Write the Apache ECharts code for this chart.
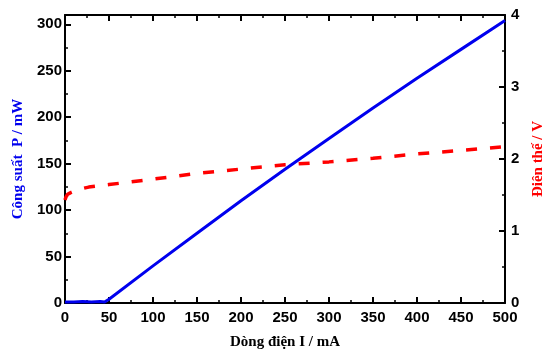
<!DOCTYPE html>
<html>
<head>
<meta charset="utf-8">
<script src="https://cdn.jsdelivr.net/npm/echarts@6/dist/echarts.min.js"></script>
<style>
  html, body { margin: 0; padding: 0; background: #fff; }
  #chart { width: 542px; height: 352px; }
</style>
</head>
<body>
<div id="chart"></div>
<script>
// power curve: current (mA) vs optical power (mW)
const powerI = [0, 10, 20, 30, 40, 45, 50, 100, 150, 200, 250, 300, 350, 400, 450, 500];
const powerP = [1, 1, 1.5, 1, 1.5, 1, 4, 40, 75, 110, 144, 177, 210, 242, 273, 304];

// voltage curve: current (mA) vs voltage (V)
const voltI = [0, 1, 3, 6, 10, 20, 27, 50, 100, 150, 200, 250, 300, 350, 400, 450, 500];
const voltV = [1.43, 1.47, 1.51, 1.53, 1.55, 1.59, 1.61, 1.645, 1.72, 1.80, 1.86, 1.92, 1.96, 2.01, 2.07, 2.12, 2.17];

const numFont = { fontFamily: "Liberation Sans, Arial, sans-serif", fontWeight: "bold", fontSize: 15, color: "#000" };
const nameFont = { fontFamily: "Liberation Serif, Times New Roman, serif", fontWeight: "bold", fontSize: 15 };

const frameLine = { show: true, onZero: false, lineStyle: { color: "#000", width: 2 } };
const tickIn = { show: true, inside: true, length: 6, lineStyle: { color: "#000", width: 2 } };
const minorIn = { show: true, splitNumber: 2, length: 3, lineStyle: { color: "#000", width: 1.5 } };

const chart = echarts.init(document.getElementById("chart"));
chart.setOption({
  animation: false,
  grid: { left: 65, right: 37, top: 15, bottom: 49, outerBoundsMode: "none", containLabel: false },
  xAxis: [
    {
      type: "value", min: 0, max: 500, interval: 50, position: "bottom",
      axisLine: frameLine, axisTick: tickIn, minorTick: minorIn,
      splitLine: { show: false },
      axisLabel: { ...numFont, margin: 7 },
      name: "Dòng điện I / mA", nameLocation: "middle", nameGap: 32,
      nameTextStyle: { ...nameFont, color: "#000" },
    },
    {
      type: "value", min: 0, max: 500, interval: 50, position: "top",
      axisLine: frameLine, axisTick: tickIn, minorTick: minorIn,
      splitLine: { show: false }, axisLabel: { show: false },
    },
  ],
  yAxis: [
    {
      type: "value", min: 0, max: 310, interval: 50, position: "left",
      axisLine: frameLine, axisTick: tickIn, minorTick: minorIn,
      splitLine: { show: false },
      axisLabel: { ...numFont, margin: 3, formatter: (v) => (v % 50 === 0 ? v : "") },
      name: "Công suất  P / mW", nameLocation: "middle", nameGap: 39, nameRotate: 90,
      nameTextStyle: { ...nameFont, color: "#0000ee" },
    },
    {
      type: "value", min: 0, max: 4, interval: 1, position: "right",
      axisLine: frameLine, axisTick: tickIn, minorTick: minorIn,
      splitLine: { show: false },
      axisLabel: { ...numFont, margin: 6 },
      name: "Điện thế / V", nameLocation: "middle", nameGap: 23, nameRotate: 90,
      nameTextStyle: { ...nameFont, color: "#ff0000" },
    },
  ],
  series: [
    {
      type: "line", xAxisIndex: 0, yAxisIndex: 0, symbol: "none",
      data: powerI.map((x, i) => [x, powerP[i]]),
      lineStyle: { color: "#0000ee", width: 3 },
    },
    {
      type: "line", xAxisIndex: 0, yAxisIndex: 1, symbol: "none",
      data: voltI.map((x, i) => [x, voltV[i]]),
      lineStyle: { color: "#ff0000", width: 3.5, type: [11, 13], cap: "butt" },
    },
  ],
});
</script>
</body>
</html>
